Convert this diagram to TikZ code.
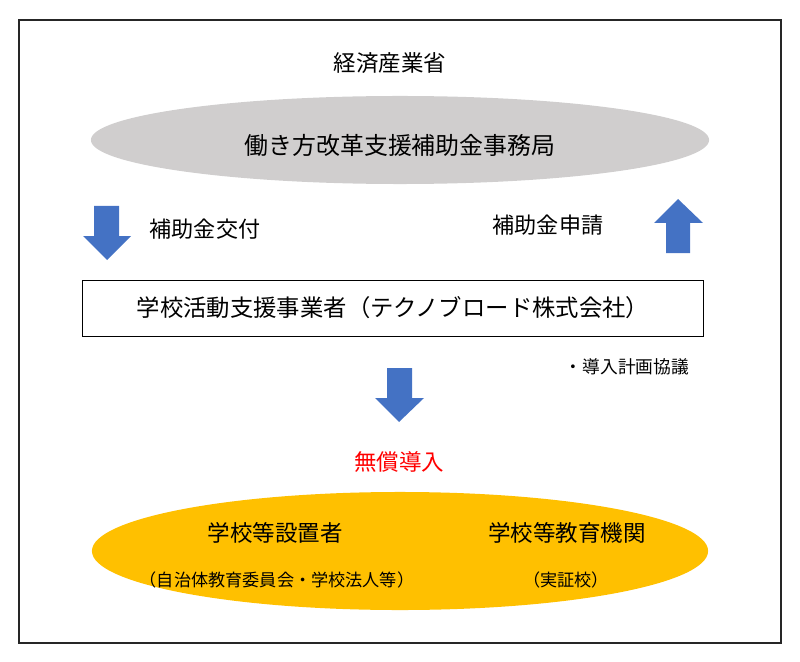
\documentclass[tikz,border=0pt]{standalone}
\usepackage{fontspec}
\setmainfont{Noto Sans CJK JP}
\usetikzlibrary{shapes.geometric}
\definecolor{arrowblue}{HTML}{4472C4}
\definecolor{officegray}{HTML}{D0CECE}
\definecolor{schoolorange}{HTML}{FFC000}
\tikzset{
  big/.style={font=\fontsize{16}{18}\selectfont},
  small/.style={font=\fontsize{12.2}{14}\selectfont},
  blob/.style={ellipse, inner sep=0pt},
}
\begin{document}
\begin{tikzpicture}[x=0.025cm,y=-0.025cm]
\useasboundingbox (0,0) rectangle (800,662);
\draw[line width=1.4pt, black!85] (19,20) rectangle (781,643);
\node[big] (meti) at (390,63){経済産業省};
\node[blob, fill=officegray, minimum width=15.45cm, minimum height=2.2cm] (office) at (400,140){};
\node[big, font=\fontsize{17}{19}\selectfont] (officetext) at (400,145){働き方改革支援補助金事務局};
\fill[arrowblue] (94,206) -- (119,206) -- (119,236) -- (131,236) -- (107,260) -- (83,236) -- (94,236) -- cycle;
\node[big, font=\fontsize{15.7}{18}\selectfont] (grant) at (205,229){補助金交付};
\node[big, font=\fontsize{15.7}{18}\selectfont] (apply) at (548,225){補助金申請};
\fill[arrowblue] (666,253) -- (690,253) -- (690,223) -- (703,223) -- (678,199) -- (654,223) -- (666,223) -- cycle;
\node[draw, line width=0.6pt, minimum width=15.5cm, minimum height=1.4cm] (vendor) at (393,308){};
\node[big, font=\fontsize{16.6}{18}\selectfont] (vendortext) at (393,308){学校活動支援事業者（テクノブロード株式会社）};
\node[font=\fontsize{12.6}{14}\selectfont] (plan) at (627,367){・導入計画協議};
\fill[arrowblue] (387,368) -- (412,368) -- (412,398) -- (424,398) -- (399,422) -- (375,398) -- (387,398) -- cycle;
\node[big, red] (free) at (399,462){無償導入};
\node[blob, fill=schoolorange, minimum width=15.4cm, minimum height=2.95cm] (schools) at (400,551){};
\node[big] (owner) at (275,533){学校等設置者};
\node[small] (ownersub) at (277,580){（自治体教育委員会・学校法人等）};
\node[big] (inst) at (567,533){学校等教育機関};
\node[small] (instsub) at (566,580){（実証校）};
\end{tikzpicture}
\end{document}
